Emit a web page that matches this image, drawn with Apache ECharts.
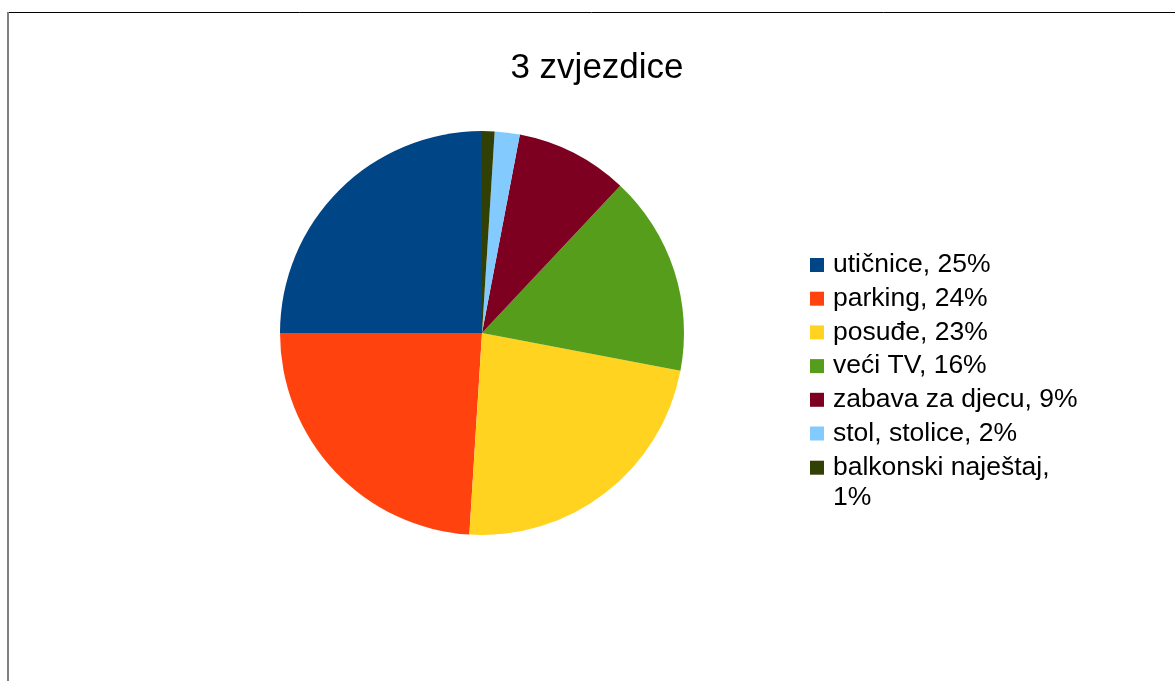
<!DOCTYPE html>
<html>
<head>
<meta charset="utf-8">
<script src="https://cdn.jsdelivr.net/npm/echarts@6/dist/echarts.min.js"></script>
<style>
  html, body { margin: 0; padding: 0; background: #fff; }
  #chart { width: 1175px; height: 681px; }
</style>
</head>
<body>
<div id="chart"></div>
<script>
// -- Data --
const categories = ['utičnice', 'parking', 'posuđe', 'veći TV', 'zabava za djecu', 'stol, stolice', 'balkonski naještaj'];
const values = [25, 24, 23, 16, 9, 2, 1];
const colors = ['#004586', '#ff420e', '#ffd320', '#579d1c', '#7e0021', '#83caff', '#314004'];

const total = values.reduce((a, b) => a + b, 0);
const pct = name => Math.round(values[categories.indexOf(name)] / total * 100) + '%';

const FONT = 'Liberation Sans';
const LEGEND_SIZE = 26.5;

const chart = echarts.init(document.getElementById('chart'), null, { renderer: 'canvas' });

chart.setOption({
  backgroundColor: '#ffffff',
  animation: false,
  title: {
    text: '3 zvjezdice',
    left: 592,
    top: 46,
    textAlign: 'center',
    textStyle: { fontFamily: FONT, fontSize: 35, fontWeight: 'normal', color: '#000' }
  },
  legend: {
    orient: 'vertical',
    left: 810,
    top: 251.5,
    padding: 0,
    itemWidth: 14,
    itemHeight: 14,
    itemGap: 6.7,
    icon: 'rect',
    selectedMode: false,
    data: categories,
    // long names wrap after the comma; the 2nd line hangs below so the marker stays on line 1
    formatter: name => name.length > 16
      ? '{a|' + name + ',}\n{b|' + pct(name) + '}'
      : name + ', ' + pct(name),
    textStyle: {
      fontFamily: FONT, fontSize: LEGEND_SIZE, lineHeight: 27, color: '#000', padding: [0, 0, 0, 4],
      rich: {
        a: { fontFamily: FONT, fontSize: LEGEND_SIZE, lineHeight: 27, color: '#000' },
        b: { fontFamily: FONT, fontSize: LEGEND_SIZE, lineHeight: 1, color: '#000', verticalAlign: 'top', padding: [3, 0, 0, 0] }
      }
    }
  },
  graphic: [
    { type: 'line', shape: { x1: 8, y1: 12.5, x2: 1175, y2: 12.5 }, style: { stroke: '#000', lineWidth: 1 } },
    { type: 'line', shape: { x1: 8, y1: 12, x2: 8, y2: 681 }, style: { stroke: '#808080', lineWidth: 2 } }
  ],
  series: [{
    type: 'pie',
    center: [482, 333],
    radius: 202,
    startAngle: 90,
    clockwise: false,
    label: { show: false },
    labelLine: { show: false },
    emphasis: { disabled: true },
    itemStyle: { borderWidth: 0 },
    data: categories.map((name, i) => ({ name, value: values[i], itemStyle: { color: colors[i] } }))
  }]
});
</script>
</body>
</html>
